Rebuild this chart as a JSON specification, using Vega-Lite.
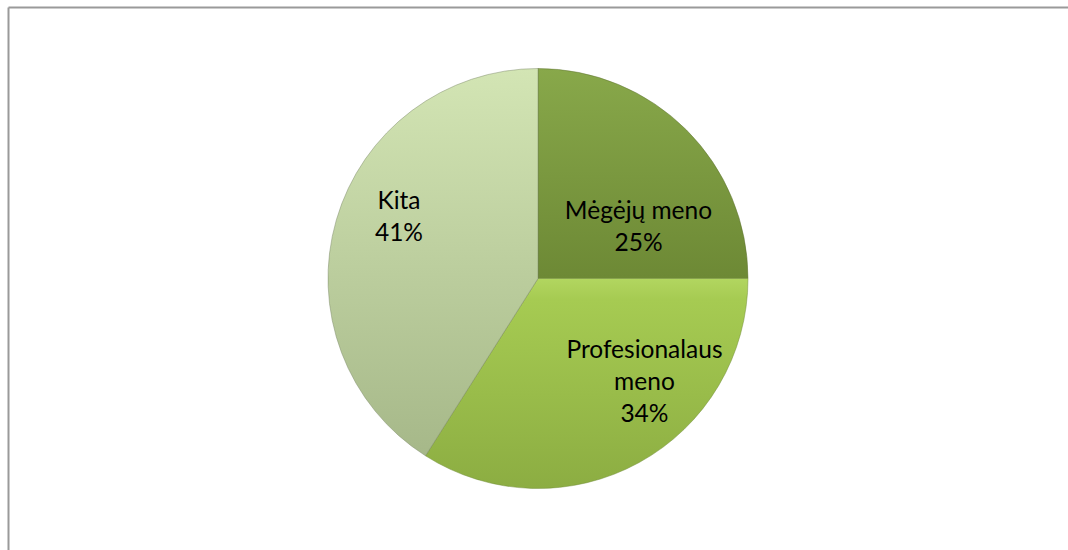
{
  "$schema": "https://vega.github.io/schema/vega-lite/v6.json",
  "width": 1060,
  "height": 543,
  "padding": {"left": 8, "top": 7, "right": 0, "bottom": 0},
  "background": "white",
  "view": {"stroke": null},
  "data": {
    "values": [
      {"category": "Mėgėjų meno", "value": 25, "order": 1, "label": "Mėgėjų meno\n25%"},
      {"category": "Profesionalaus meno", "value": 34, "order": 2, "label": "Profesionalaus\nmeno\n34%"},
      {"category": "Kita", "value": 41, "order": 3, "label": "Kita\n41%"}
    ]
  },
  "transform": [
    {"stack": "value", "groupby": [], "sort": [{"field": "order", "order": "ascending"}], "as": ["v0", "v1"]}
  ],
  "layer": [
    {
      "transform": [{"filter": "datum.order == 1"}],
      "mark": {"type": "arc", "outerRadius": 210, "stroke": "#5d7030", "strokeWidth": 0.8, "strokeOpacity": 0.6,
        "fill": {"gradient": "linear", "x1": 0, "y1": 0, "x2": 0, "y2": 1, "stops": [{"offset": 0, "color": "#88a84a"}, {"offset": 1, "color": "#6d8935"}]}},
      "encoding": {
        "x": {"datum": 0.5, "type": "quantitative", "scale": {"domain": [0, 1]},
          "axis": {"orient": "top", "domain": true, "domainColor": "#9a9a9a", "domainWidth": 2, "ticks": false, "labels": false, "grid": false, "title": null}},
        "y": {"datum": 0.5, "type": "quantitative", "scale": {"domain": [0, 1]},
          "axis": {"orient": "left", "domain": true, "domainColor": "#9a9a9a", "domainWidth": 2, "ticks": false, "labels": false, "grid": false, "title": null}},
        "theta": {"field": "v0", "type": "quantitative", "scale": {"domain": [0, 100]}},
        "theta2": {"field": "v1"}
      }
    },
    {
      "transform": [{"filter": "datum.order == 2"}],
      "mark": {"type": "arc", "outerRadius": 210, "stroke": "#6f8c37", "strokeWidth": 0.8, "strokeOpacity": 0.6,
        "fill": {"gradient": "linear", "x1": 0, "y1": 0, "x2": 0, "y2": 1, "stops": [{"offset": 0, "color": "#b2d660"}, {"offset": 0.1, "color": "#a6cb52"}, {"offset": 1, "color": "#8cad42"}]}},
      "encoding": {
        "theta": {"field": "v0", "type": "quantitative", "scale": {"domain": [0, 100]}},
        "theta2": {"field": "v1"}
      }
    },
    {
      "transform": [{"filter": "datum.order == 3"}],
      "mark": {"type": "arc", "outerRadius": 210, "stroke": "#7d8a6a", "strokeWidth": 0.8, "strokeOpacity": 0.6,
        "fill": {"gradient": "linear", "x1": 0, "y1": 0, "x2": 0, "y2": 1, "stops": [{"offset": 0, "color": "#d3e5b4"}, {"offset": 1, "color": "#a6b889"}]}},
      "encoding": {
        "theta": {"field": "v0", "type": "quantitative", "scale": {"domain": [0, 100]}},
        "theta2": {"field": "v1"}
      }
    },
    {
      "mark": {"type": "text", "radius": 140, "font": "Lato", "fontSize": 24.5, "lineBreak": "\n", "lineHeight": 32, "color": "#000000", "align": "center", "baseline": "middle", "dx": 1.5, "dy": 32.5},
      "encoding": {
        "theta": {"field": "value", "type": "quantitative", "stack": true},
        "order": {"field": "order", "type": "quantitative"},
        "text": {"condition": {"test": "datum.order == 1", "field": "label"}, "value": ""}
      }
    },
    {
      "mark": {"type": "text", "radius": 140, "font": "Lato", "fontSize": 24.5, "lineBreak": "\n", "lineHeight": 32, "color": "#000000", "align": "center", "baseline": "middle", "dx": 39, "dy": -50},
      "encoding": {
        "theta": {"field": "value", "type": "quantitative", "stack": true},
        "order": {"field": "order", "type": "quantitative"},
        "text": {"condition": {"test": "datum.order == 2", "field": "label"}, "value": ""}
      }
    },
    {
      "mark": {"type": "text", "radius": 140, "font": "Lato", "fontSize": 24.5, "lineBreak": "\n", "lineHeight": 32, "color": "#000000", "align": "center", "baseline": "middle", "dx": -4.6, "dy": -37.4},
      "encoding": {
        "theta": {"field": "value", "type": "quantitative", "stack": true},
        "order": {"field": "order", "type": "quantitative"},
        "text": {"condition": {"test": "datum.order == 3", "field": "label"}, "value": ""}
      }
    }
  ]
}
